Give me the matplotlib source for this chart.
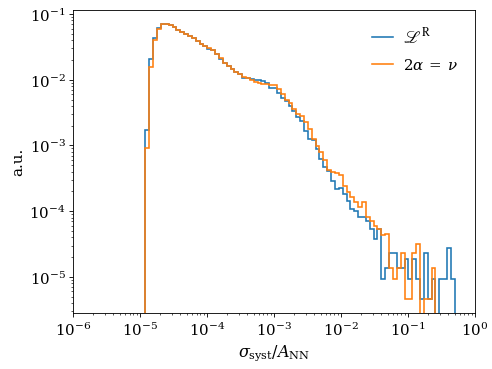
import numpy as np
import matplotlib
matplotlib.use("Agg")
import matplotlib.pyplot as plt
from matplotlib.lines import Line2D

# log-spaced bins between the smallest and largest sample
x_min = 1.21e-5
x_max = 0.503
n_bins = 80

# bin heights (a.u.)
lr_values = [
    1.73e-3, 2.04e-2, 4.27e-2, 6.21e-2, 7.14e-2, 7.08e-2, 6.76e-2, 6.31e-2, 5.82e-2, 5.37e-2,
    5.01e-2, 4.62e-2, 4.27e-2, 3.89e-2, 3.55e-2, 3.24e-2, 2.99e-2, 2.82e-2, 2.45e-2, 2.04e-2,
    1.82e-2, 1.62e-2, 1.45e-2, 1.33e-2, 1.21e-2, 1.05e-2, 1.05e-2, 1.02e-2, 1.00e-2, 1.00e-2,
    9.55e-3, 9.02e-3, 7.60e-3, 7.59e-3, 6.38e-3, 5.37e-3, 4.79e-3, 3.98e-3, 3.39e-3, 2.69e-3,
    2.34e-3, 1.66e-3, 1.26e-3, 1.22e-3, 8.80e-4, 6.31e-4, 4.68e-4, 4.07e-4, 2.88e-4, 2.19e-4,
    2.24e-4, 1.82e-4, 1.45e-4, 1.07e-4, 1.02e-4, 8.13e-5, 8.13e-5, 7.08e-5, 5.37e-5, 3.72e-5,
    5.37e-5, 9.2e-6, 1.38e-5, 2.30e-5, 2.30e-5, 1.38e-5, 1.38e-5, 1.84e-5, 9.2e-6, 1.84e-5,
    9.2e-6, 4.6e-6, 2.30e-5, 4.6e-6, 9.2e-6, 0.0, 9.2e-6, 9.2e-6, 2.76e-5, 9.2e-6,
]
alpha_values = [
    9.00e-4, 1.58e-2, 4.07e-2, 5.85e-2, 7.19e-2, 7.08e-2, 6.76e-2, 6.31e-2, 5.82e-2, 5.37e-2,
    5.01e-2, 4.62e-2, 4.27e-2, 3.89e-2, 3.55e-2, 3.24e-2, 3.02e-2, 2.82e-2, 2.45e-2, 2.14e-2,
    1.82e-2, 1.62e-2, 1.45e-2, 1.33e-2, 1.21e-2, 1.12e-2, 1.05e-2, 9.93e-3, 9.33e-3, 8.91e-3,
    8.71e-3, 8.51e-3, 8.24e-3, 8.32e-3, 7.24e-3, 6.03e-3, 4.90e-3, 4.37e-3, 3.63e-3, 3.02e-3,
    2.82e-3, 2.24e-3, 1.78e-3, 1.26e-3, 9.66e-4, 7.94e-4, 6.03e-4, 4.27e-4, 3.98e-4, 3.80e-4,
    3.55e-4, 2.40e-4, 1.95e-4, 1.62e-4, 1.38e-4, 1.17e-4, 1.38e-4, 8.13e-5, 7.08e-5, 6.03e-5,
    5.37e-5, 4.37e-5, 4.47e-5, 1.38e-5, 9.2e-6, 1.38e-5, 2.30e-5, 4.6e-6, 4.6e-6, 2.30e-5,
    3.22e-5, 0.0, 4.6e-6, 4.6e-6, 1.38e-5, 0.0, 0.0, 0.0, 0.0, 0.0,
]
labels = [r"$\mathscr{L}^{\mathrm{R}}$", r"$2\alpha\:=\:\nu$"]
colors = ["tab:blue", "tab:orange"]

plt.rcParams["mathtext.fontset"] = "dejavuserif"
plt.rcParams["font.family"] = "DejaVu Serif"
plt.rcParams["font.size"] = 14

edges = np.logspace(np.log10(x_min), np.log10(x_max), n_bins + 1)
centers = np.sqrt(edges[:-1] * edges[1:])

fig = plt.figure(figsize=(6.4, 4.8), dpi=77)
ax = fig.add_axes([0.148, 0.151, 0.8155, 0.820])

for vals, col in zip([lr_values, alpha_values], colors):
    ax.hist(centers, bins=edges, weights=vals, histtype="step", lw=1.5, color=col)

ax.set_xscale("log")
ax.set_yscale("log")
ax.set_xlim(1e-6, 1)
ax.set_ylim(2.8e-6, 0.115)
ax.set_xlabel(r"$\sigma_{\mathrm{syst}}/A_{\mathrm{NN}}$", fontsize=15)
ax.set_ylabel("a.u.", fontsize=14)

handles = [Line2D([], [], color=c, lw=1.5) for c in colors]
leg = ax.legend(handles, labels, loc="upper right", frameon=False, fontsize=14,
                handlelength=1.4, handletextpad=0.7, labelspacing=0.7,
                borderaxespad=0.7)
leg.get_texts()[0].set_math_fontfamily("stix")
leg.get_texts()[0].set_fontsize(16)

fig.savefig("out.png", dpi=77)
